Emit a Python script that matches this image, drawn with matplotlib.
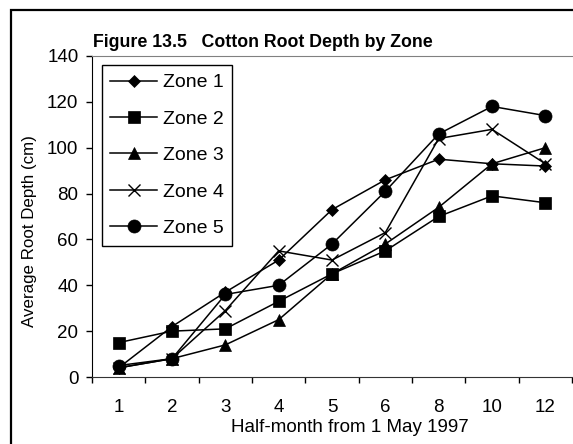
import numpy as np
import matplotlib
matplotlib.use("Agg")
import matplotlib.pyplot as plt
from matplotlib.patches import Rectangle
from matplotlib.ticker import FixedLocator

plt.rcParams['font.family'] = ['Liberation Sans', 'DejaVu Sans']

# half-month periods (categorical axis)
half_months = ['1', '2', '3', '4', '5', '6', '8', '10', '12']

# average root depth (cm) per zone
zone1 = [4, 22, 37, 51, 73, 86, 95, 93, 92]
zone2 = [15, 20, 21, 33, 45, 55, 70, 79, 76]
zone3 = [4, 8, 14, 25, 45, 58, 74, 93, 100]
zone4 = [4, 8, 29, 55, 51, 63, 104, 108, 93]
zone5 = [5, 8, 36, 40, 58, 81, 106, 118, 114]

zones = [zone1, zone2, zone3, zone4, zone5]
labels = ['Zone 1', 'Zone 2', 'Zone 3', 'Zone 4', 'Zone 5']
markers = ['D', 's', '^', 'x', 'o']
msizes = [6.6, 9.2, 9.2, 9.0, 9.4]

W, H = 573, 444
fig = plt.figure(figsize=(W / 100, H / 100), dpi=100)
ax = fig.add_axes([92 / W, 1 - 377 / H, (572 - 92) / W, (377 - 56) / H])

x = np.arange(len(half_months))
for vals, lab, m, ms in zip(zones, labels, markers, msizes):
    ax.plot(x, vals, color='black', lw=1.1, marker=m, markersize=ms,
            markeredgewidth=1.0 if m == 'x' else 0.5, label=lab)

ax.set_xlim(-0.5, len(half_months) - 0.5)
ax.set_ylim(0, 140)
ax.set_yticks(np.arange(0, 141, 20))
ax.set_xticks(x)
ax.set_xticklabels(half_months)
ax.xaxis.set_minor_locator(FixedLocator(np.arange(-0.5, len(half_months), 1.0)))
ax.tick_params(axis='x', which='major', length=0, pad=15.5, labelsize=13.5)
ax.tick_params(axis='x', which='minor', length=4, width=1, direction='out')
ax.tick_params(axis='y', length=4.3, width=1, pad=5.5, labelsize=13.5, direction='out')

ax.spines['left'].set_color('black')
ax.spines['bottom'].set_color('#333333')
ax.spines['top'].set_color('#808080')
ax.spines['right'].set_visible(False)

leg = ax.legend(loc='upper left', bbox_to_anchor=(0.02, 0.972), borderaxespad=0,
                fancybox=False, edgecolor='black', framealpha=1, fontsize=14,
                handlelength=2.4, labelspacing=0.97, borderpad=0.45,
                handletextpad=0.3)
leg.get_frame().set_linewidth(1.0)

fig.text(93 / W, 1 - 47 / H, 'Figure 13.5   Cotton Root Depth by Zone',
         fontsize=12.8, fontweight='bold', va='baseline', ha='left')
fig.text(30 / W, 1 - 231 / H, 'Average Root Depth (cm)', rotation=90,
         fontsize=12.2, va='center', ha='center')
fig.text(350 / W, 1 - 427 / H, 'Half-month from 1 May 1997',
         fontsize=13.5, va='center', ha='center')

# outer chart frame (only left and top edges fall inside the image)
fig.patches.append(Rectangle((11 / W, -0.1), 2, 1 - 10.5 / H + 0.1,
                             transform=fig.transFigure, fill=False,
                             lw=1.6, ec='black'))

fig.savefig('out.png', dpi=100)
